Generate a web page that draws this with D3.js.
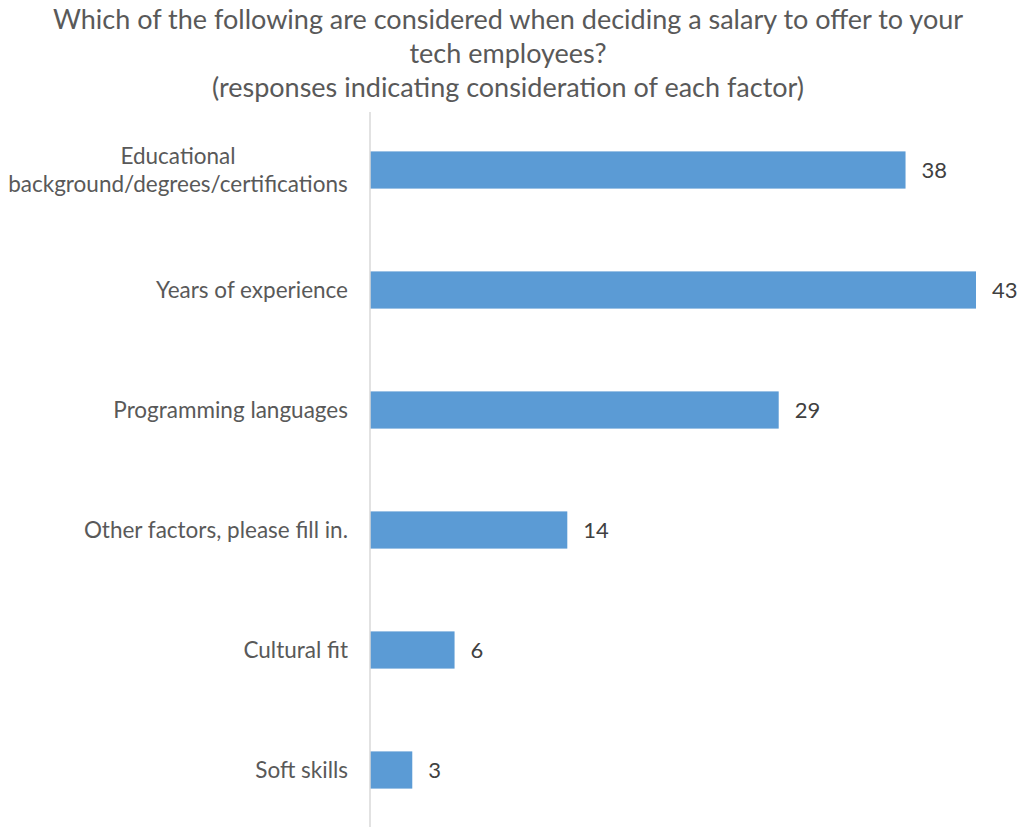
<!DOCTYPE html>
<html>
<head>
<meta charset="utf-8">
<script src="https://cdn.jsdelivr.net/npm/d3@7"></script>
<style>
  html, body { margin: 0; padding: 0; background: #fff; }
  svg { display: block; font-family: Lato, "Open Sans", sans-serif; }
</style>
</head>
<body>
<svg id="chart" width="1021" height="827"></svg>
<script>
// Survey factors considered when setting tech salaries
const categories = [
  "Educational\nbackground/degrees/certifications",
  "Years of experience",
  "Programming languages",
  "Other factors, please fill in.",
  "Cultural fit",
  "Soft skills"
];
const responses = [38, 43, 29, 14, 6, 3];
const titleLines = [
  "Which of the following are considered when deciding a salary to offer to your",
  "tech employees?",
  "(responses indicating consideration of each factor)"
];

const W = 1021, H = 827;
const svg = d3.select("#chart");

const plot = { left: 370, right: 976, top: 110, bottom: 830 };

const y = d3.scaleBand()
  .domain(categories)
  .range([plot.top, plot.bottom])
  .paddingInner(0.69)
  .paddingOuter(0.345);

const x = d3.scaleLinear()
  .domain([0, d3.max(responses)])
  .range([plot.left, plot.right]);

const data = categories.map((c, i) => ({ cat: c, val: responses[i] }));

// Title
svg.append("g")
  .selectAll("text")
  .data(titleLines)
  .join("text")
  .attr("x", 508)
  .attr("y", (d, i) => 29 + i * 34)
  .attr("text-anchor", "middle")
  .attr("font-size", 27)
  .attr("fill", "#595959")
  .text(d => d);

// Bars
svg.append("g")
  .selectAll("rect")
  .data(data)
  .join("rect")
  .attr("x", x(0))
  .attr("y", d => y(d.cat))
  .attr("width", d => x(d.val) - x(0))
  .attr("height", y.bandwidth())
  .attr("fill", "#5B9BD5");

// Category axis line
svg.append("line")
  .attr("x1", x(0)).attr("x2", x(0))
  .attr("y1", 112).attr("y2", H)
  .attr("stroke", "#D9D9D9")
  .attr("stroke-width", 1.5);

// Category labels (multi-line where needed)
const labels = svg.append("g")
  .selectAll("text")
  .data(data)
  .join("text")
  .attr("font-size", 22.5)
  .attr("fill", "#595959");

labels.each(function(d) {
  const lines = d.cat.split("\n");
  const cy = y(d.cat) + y.bandwidth() / 2;
  const lh = 28;
  const t = d3.select(this);
  // multi-line labels are centred on their widest line, single lines are right-aligned
  t.attr("text-anchor", lines.length > 1 ? "middle" : "end");
  lines.forEach((ln, i) => {
    t.append("tspan")
      .attr("x", lines.length > 1 ? 178 : 348)
      .attr("y", cy + (i - (lines.length - 1) / 2) * lh)
      .attr("dy", "0.35em")
      .text(ln);
  });
});

// Value labels
svg.append("g")
  .selectAll("text")
  .data(data)
  .join("text")
  .attr("x", d => x(d.val) + 16)
  .attr("y", d => y(d.cat) + y.bandwidth() / 2)
  .attr("dy", "0.35em")
  .attr("font-size", 22)
  .attr("fill", "#404040")
  .text(d => d.val);
</script>
</body>
</html>
